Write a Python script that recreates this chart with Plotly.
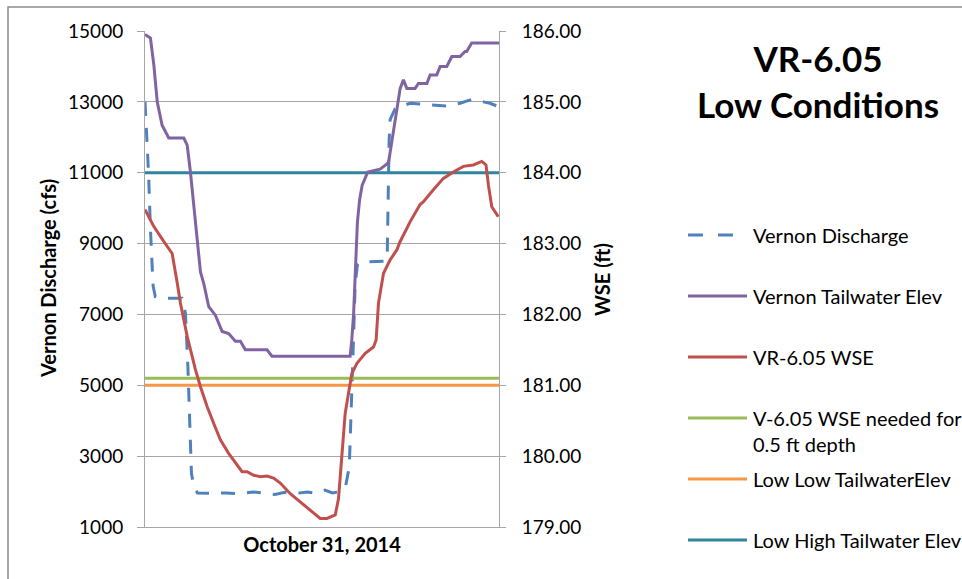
import plotly.graph_objects as go

# ---- data: 31 October 2014, time of day in hours ----
discharge_hours = [0.00, 0.24, 0.37, 0.55, 0.70, 1.50, 2.50, 2.74, 2.91, 3.05, 3.15, 3.35, 3.56,
                   4.50, 5.50, 6.50, 7.30, 8.00, 8.80, 9.50, 10.30, 11.00, 11.60, 12.20, 12.70,
                   13.24, 13.60, 13.85, 14.00, 14.12, 14.25, 14.40, 14.60, 15.50, 16.30, 16.42,
                   16.48, 16.55, 16.62, 16.95, 17.40, 17.98, 18.65, 19.55, 20.46, 21.36, 22.15,
                   22.94, 23.39, 24.00]
discharge_cfs = [13000, 11000, 9400, 7800, 7500, 7460, 7460, 7040, 5500, 3500, 2500, 2100, 1960,
                 1950, 1960, 1940, 1990, 1960, 1920, 1980, 1950, 1990, 1950, 2040, 1960,
                 2000, 2150, 2700, 4300, 6100, 7850, 8400, 8480, 8500, 8500, 8600,
                 10500, 11900, 12500, 12800, 12880, 12960, 12940, 12910, 12880, 12960, 13070,
                 13000, 12960, 12860]

tailwater_hours = [0.00, 0.37, 0.60, 0.83, 1.16, 1.61, 2.63, 2.86, 3.08, 3.42, 3.76, 3.98, 4.32,
                   4.77, 5.23, 5.67, 6.13, 6.47, 6.80, 8.27, 8.61, 13.91, 14.02, 14.14, 14.25,
                   14.40, 14.55, 14.72, 15.10, 15.94, 16.51, 16.74, 17.07, 17.30, 17.52, 17.75,
                   18.31, 18.54, 19.11, 19.33, 19.78, 20.01, 20.46, 20.80, 21.36, 21.70, 21.81,
                   22.15, 24.00]
tailwater_ft = [185.95, 185.90, 185.52, 185.00, 184.67, 184.49, 184.49, 184.39, 184.01, 183.26,
                182.60, 182.44, 182.11, 181.99, 181.76, 181.73, 181.62, 181.62, 181.50, 181.50,
                181.41, 181.41, 181.64, 182.00, 182.60, 183.30, 183.62, 183.82, 184.01, 184.05,
                184.14, 184.46, 184.88, 185.19, 185.31, 185.19, 185.19, 185.26, 185.26, 185.38,
                185.38, 185.50, 185.50, 185.64, 185.64, 185.71, 185.71, 185.83, 185.83]

wse_hours = [0.00, 0.60, 1.27, 1.84, 2.18, 2.40, 2.86, 3.42, 3.76, 4.21, 4.66, 5.11, 5.67, 6.13,
             6.58, 6.92, 7.37, 7.82, 8.27, 8.72, 9.17, 9.85, 10.75, 11.43, 11.88, 12.34, 12.90,
             13.12, 13.35, 13.57, 13.80, 14.03, 14.37, 14.93, 15.49, 15.67, 15.83, 16.17, 16.62,
             17.07, 17.30, 17.98, 18.65, 18.88, 19.55, 20.23, 20.91, 21.58, 22.26, 22.83, 23.12,
             23.28, 23.51, 23.95]
wse_ft = [183.48, 183.24, 183.03, 182.86, 182.45, 182.16, 181.69, 181.22, 180.98, 180.70, 180.46,
          180.23, 180.04, 179.90, 179.78, 179.78, 179.73, 179.71, 179.72, 179.69, 179.62, 179.47,
          179.31, 179.19, 179.12, 179.12, 179.17, 179.40, 180.02, 180.60, 180.89, 181.17, 181.31,
          181.45, 181.54, 181.64, 182.16, 182.58, 182.77, 182.91, 183.03, 183.31, 183.55, 183.59,
          183.76, 183.92, 184.01, 184.09, 184.11, 184.16, 184.11, 183.83, 183.52, 183.38]

depth_needed_ft = 181.1
low_low_ft = 181.0
low_high_ft = 184.0
day_span = [0, 24]

series_names = ["Vernon Discharge", "Vernon Tailwater Elev", "VR-6.05 WSE",
                "V-6.05 WSE needed for<br>0.5 ft depth", "Low Low TailwaterElev",
                "Low High Tailwater Elev"]
series_colors = ["#4F81BD", "#8064A2", "#C0504D", "#9BBB59", "#F79646", "#31859C"]
series_dash = ["14px,12px", None, None, None, None, None]

left_ticks = list(range(1000, 15001, 2000))
right_ticks = list(range(179, 187))
date_label = "October 31, 2014"
chart_title = "VR-6.05<br>Low Conditions"
left_title = "Vernon Discharge (cfs)"
right_title = "WSE (ft)"

# ---- figure geometry (pixels) ----
W, H = 962, 579
PL, PR, PT, PB = 145, 499, 31, 527


def xp(x):
    return (x - PL) / (PR - PL)


def yp(y):
    return (PB - y) / (PB - PT)


FONT = "Lato"
GRID = "#A6A6A6"
LINE_W = 3
BLACK = "#000000"

fig = go.Figure()

# discharge on the primary (cfs) axis
fig.add_trace(go.Scatter(x=discharge_hours, y=discharge_cfs, mode="lines",
                         name=series_names[0], yaxis="y",
                         line=dict(color=series_colors[0], width=LINE_W, dash=series_dash[0])))

# reference elevations on the WSE axis
for idx, level in zip([3, 4, 5], [depth_needed_ft, low_low_ft, low_high_ft]):
    fig.add_trace(go.Scatter(x=day_span, y=[level, level], mode="lines",
                             name=series_names[idx], yaxis="y2",
                             line=dict(color=series_colors[idx], width=LINE_W)))

fig.add_trace(go.Scatter(x=tailwater_hours, y=tailwater_ft, mode="lines",
                         name=series_names[1], yaxis="y2",
                         line=dict(color=series_colors[1], width=LINE_W)))
fig.add_trace(go.Scatter(x=wse_hours, y=wse_ft, mode="lines",
                         name=series_names[2], yaxis="y2",
                         line=dict(color=series_colors[2], width=LINE_W)))

# legend, laid out as evenly spaced rows to the right of the plot
shapes = []
annotations = []
row0, row_step = 235, 61
for i, (name, color, dash) in enumerate(zip(series_names, series_colors, series_dash)):
    y = row0 + i * row_step
    shapes.append(dict(type="line", xref="paper", yref="paper",
                       x0=xp(688), x1=xp(747), y0=yp(y), y1=yp(y),
                       line=dict(color=color, width=LINE_W,
                                 dash="15px,15px" if dash else "solid")))
    multi = "<br>" in name
    annotations.append(dict(text=name, xref="paper", yref="paper",
                            x=xp(751), y=yp(y - 14) if multi else yp(y),
                            xanchor="left", yanchor="top" if multi else "middle",
                            align="left", showarrow=False,
                            font=dict(family=FONT, size=20, color=BLACK)))

# axis titles
annotations.append(dict(text="<b>" + left_title + "</b>", xref="paper", yref="paper",
                        x=xp(48), y=yp(279), xanchor="center", yanchor="middle",
                        textangle=-90, showarrow=False,
                        font=dict(family=FONT, size=20, color=BLACK)))
annotations.append(dict(text="<b>" + right_title + "</b>", xref="paper", yref="paper",
                        x=xp(602), y=yp(280), xanchor="center", yanchor="middle",
                        textangle=-90, showarrow=False,
                        font=dict(family=FONT, size=20, color=BLACK)))

# chart border
shapes.append(dict(type="rect", xref="paper", yref="paper",
                   x0=xp(8), x1=xp(W + 20), y0=yp(7), y1=yp(H + 20),
                   line=dict(color="#8C8C8C", width=1.5), layer="below"))

fig.update_layout(
    width=W, height=H, autosize=False,
    margin=dict(l=PL, r=W - PR, t=PT, b=H - PB, pad=0),
    paper_bgcolor="white", plot_bgcolor="white",
    showlegend=False,
    font=dict(family=FONT, size=19, color=BLACK),
    title=dict(text="<b>" + chart_title + "</b>", xref="container", yref="container",
               x=818 / W, xanchor="center", y=1 - 72 / H, yanchor="middle",
               font=dict(family=FONT, size=35, color=BLACK)),
    xaxis=dict(range=day_span, showgrid=False, zeroline=False, showline=True,
               linecolor=GRID, linewidth=1, ticks="", tickvals=[12],
               ticktext=["<b>" + date_label + "</b>"],
               tickfont=dict(family=FONT, size=20, color=BLACK), automargin=False),
    yaxis=dict(range=[1000, 15000], tickvals=left_ticks, tickformat="d", showgrid=True,
               gridcolor=GRID, gridwidth=1, zeroline=False, showline=True, linecolor=GRID,
               linewidth=1, ticks="outside", ticklen=7, tickcolor=GRID, ticklabelstandoff=10,
               tickfont=dict(family=FONT, size=19, color=BLACK), automargin=False),
    yaxis2=dict(range=[179, 186], tickvals=right_ticks, tickformat=".2f", overlaying="y",
                side="right", showgrid=False, zeroline=False, showline=True, linecolor=GRID,
                linewidth=1, ticks="outside", ticklen=6, tickcolor=GRID, ticklabelstandoff=12,
                tickfont=dict(family=FONT, size=19, color=BLACK), automargin=False),
    shapes=shapes,
    annotations=annotations,
)

fig.write_html("out.html")
